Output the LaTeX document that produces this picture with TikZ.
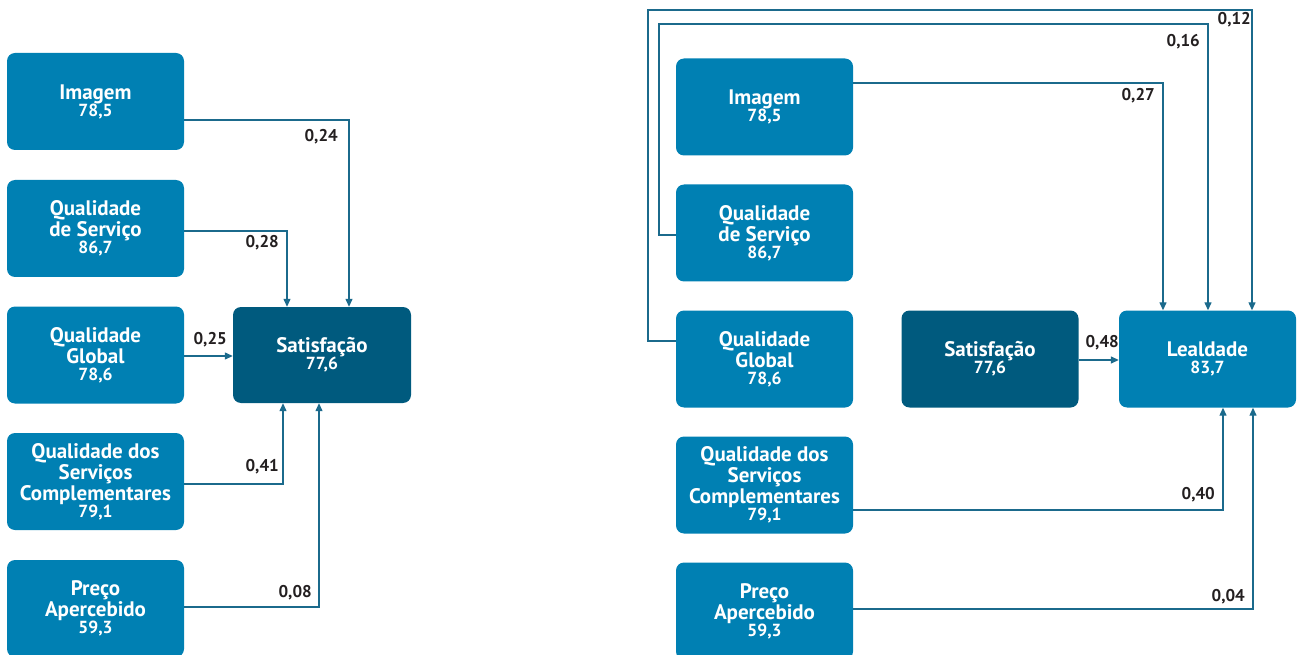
\documentclass[tikz,border=0pt]{standalone}
\usepackage{fontspec}
\setmainfont{PT Sans}
\usetikzlibrary{arrows.meta}
\definecolor{boxlight}{HTML}{0080B3}
\definecolor{boxdark}{HTML}{005A7E}
\definecolor{linecol}{HTML}{1B6A8C}
\definecolor{labcol}{HTML}{231F20}
\newcommand{\nm}[1]{{\fontsize{17.5}{17.5}\selectfont #1}}
\begin{document}
\begin{tikzpicture}[x=1pt,y=-1pt,
  box/.style={rounded corners=8pt, fill=boxlight, text=white, align=center,
    minimum width=177pt, minimum height=97pt, inner sep=2pt,
    font=\fontsize{21}{21}\selectfont\bfseries},
  dbox/.style={box, fill=boxdark},
  arr/.style={draw=linecol, line width=1.3pt, -{Triangle[length=8pt,width=7pt]}},
  lab/.style={anchor=east, text=labcol, inner sep=0pt, font=\fontsize{17}{18}\selectfont\bfseries}]
\useasboundingbox (0,0) rectangle (1299,655);
% left diagram
\node[box] (iL) at (95.5,101.5) {Imagem\\[-4pt]\nm{78,5}};
\node[box] (qL) at (95.5,228.5) {Qualidade\\de Serviço\\[-4pt]\nm{86,7}};
\node[box] (gL) at (95.5,355) {Qualidade\\Global\\[-4pt]\nm{78,6}};
\node[box] (cL) at (95.5,481.5) {Qualidade dos\\Serviços\\Complementares\\[-4pt]\nm{79,1}};
\node[box] (pL) at (95.5,608.5) {Preço\\Apercebido\\[-4pt]\nm{59,3}};
\node[dbox, minimum width=178pt, minimum height=96pt] (sL) at (322,355) {Satisfação\\[-4pt]\nm{77,6}};
\draw[arr] ([yshift=-18.5pt]iL.east) -| ([xshift=27pt]sL.north);
\draw[arr] ([yshift=-2.5pt]qL.east) -| ([xshift=-35pt]sL.north);
\draw[arr] ([yshift=-1pt]gL.east) -- ([yshift=-1pt]sL.west);
\draw[arr] ([yshift=-2.5pt]cL.east) -| ([xshift=-39pt]sL.south);
\draw[arr] ([yshift=1.5pt]pL.east) -| ([xshift=-3pt]sL.south);
\node[lab] (l1) at (338,137) {0,24};
\node[lab] (l2) at (279,243) {0,28};
\node[lab] (l3) at (227,340) {0,25};
\node[lab] (l4) at (279,467) {0,41};
\node[lab] (l5) at (312,593) {0,08};
% right diagram
\node[box] (iR) at (764.5,107) {Imagem\\[-4pt]\nm{78,5}};
\node[box] (qR) at (764.5,233) {Qualidade\\de Serviço\\[-4pt]\nm{86,7}};
\node[box] (gR) at (764.5,359) {Qualidade\\Global\\[-4pt]\nm{78,6}};
\node[box] (cR) at (764.5,485) {Qualidade dos\\Serviços\\Complementares\\[-4pt]\nm{79,1}};
\node[box] (pR) at (764.5,611) {Preço\\Apercebido\\[-4pt]\nm{59,3}};
\node[dbox] (sR) at (990,359) {Satisfação\\[-4pt]\nm{77,6}};
\node[box] (lR) at (1207.5,359) {Lealdade\\[-4pt]\nm{83,7}};
\coordinate (q1) at (659,24);
\coordinate (g1) at (648,10);
\draw[arr] ([yshift=24pt]iR.east) -| ([xshift=-44.5pt]lR.north);
\draw[arr] ([yshift=-2pt]qR.west) -| (q1) -| ([xshift=0.5pt]lR.north);
\draw[arr] ([yshift=18pt]gR.west) -| (g1) -| ([xshift=44.5pt]lR.north);
\draw[arr] ([yshift=-1pt]sR.east) -- ([yshift=-1pt]lR.west);
\draw[arr] ([yshift=-25pt]cR.east) -| ([xshift=15.5pt]lR.south);
\draw[arr] ([yshift=2pt]pR.east) -| ([xshift=45.5pt]lR.south);
\node[lab] (r1) at (1155,96) {0,27};
\node[lab] (r2) at (1200,42) {0,16};
\node[lab] (r3) at (1251,20) {0,12};
\node[lab] (r4) at (1119,343) {0,48};
\node[lab] (r5) at (1215,495) {0,40};
\node[lab] (r6) at (1245,597) {0,04};
\end{tikzpicture}
\end{document}
